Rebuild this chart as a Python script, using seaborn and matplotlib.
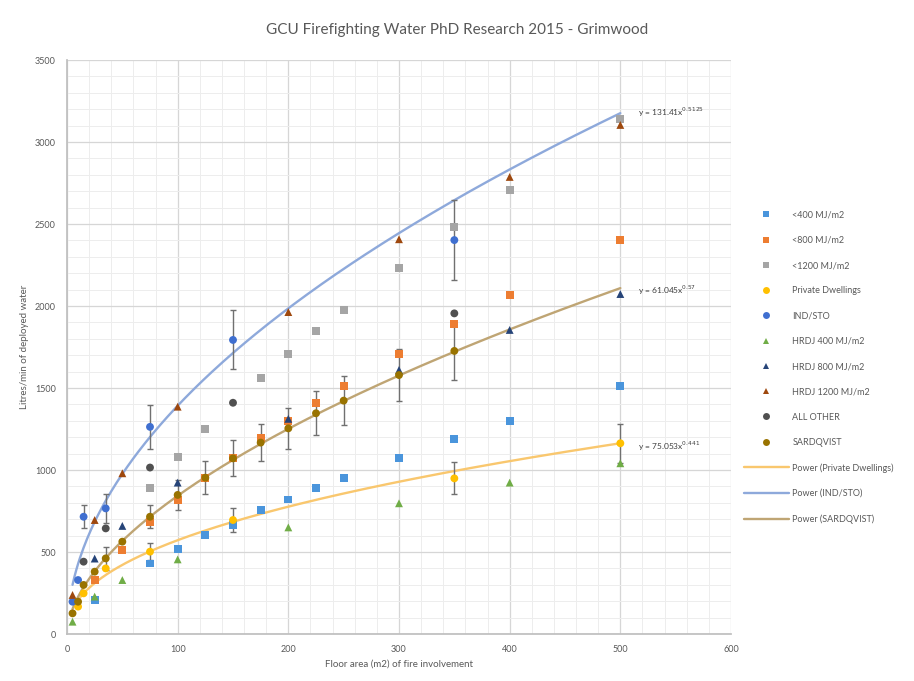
import numpy as np
import pandas as pd
import matplotlib
matplotlib.use("Agg")
import matplotlib.pyplot as plt
import seaborn as sns
from matplotlib.lines import Line2D
from matplotlib.ticker import MultipleLocator

# ---------------- data ----------------
lt400_x = [25, 75, 100, 125, 150, 175, 200, 225, 250, 300, 350, 400, 500]
lt400_y = [207, 430, 518, 602, 665, 754, 820, 890, 949, 1072, 1188, 1299, 1512]

lt800_x = [25, 50, 75, 100, 125, 150, 175, 200, 225, 250, 300, 350, 400, 500]
lt800_y = [329, 512, 685, 817, 950, 1071, 1193, 1300, 1406, 1512, 1705, 1890, 2065, 2400]

lt1200_x = [75, 100, 125, 175, 200, 225, 250, 300, 350, 400, 500]
lt1200_y = [888, 1077, 1248, 1559, 1707, 1845, 1976, 2230, 2484, 2707, 3140]

priv_x = [10, 15, 35, 75, 150, 350, 500]
priv_y = [167, 248, 400, 502, 695, 949, 1163]
priv_err = [0, 0, 0, 52, 75, 98, 120]

ind_x = [5, 10, 15, 35, 75, 150, 350]
ind_y = [197, 329, 715, 766, 1263, 1793, 2402]
ind_err = [0, 0, 70, 90, 135, 180, 245]

h400_x = [5, 25, 50, 100, 200, 300, 400, 500]
h400_y = [75, 228, 329, 455, 650, 797, 923, 1041]

h800_x = [25, 50, 100, 200, 300, 400, 500]
h800_y = [460, 659, 923, 1312, 1610, 1854, 2073]

h1200_x = [5, 25, 50, 100, 200, 300, 400, 500]
h1200_y = [238, 695, 980, 1386, 1963, 2407, 2787, 3104]

other_x = [15, 35, 75, 150, 350]
other_y = [441, 644, 1015, 1410, 1955]

sard_x = [5, 10, 15, 25, 35, 50, 75, 100, 125, 150, 175, 200, 225, 250, 300, 350]
sard_y = [126, 197, 299, 380, 461, 563, 715, 848, 953, 1071, 1167, 1254, 1346, 1423, 1579, 1726]
sard_err = [0, 0, 0, 0, 70, 0, 70, 90, 100, 110, 115, 127, 135, 148, 160, 177]

series_names = ["<400 MJ/m2", "<800 MJ/m2", "<1200 MJ/m2", "Private Dwellings", "IND/STO",
                "HRDJ 400 MJ/m2", "HRDJ 800 MJ/m2", "HRDJ 1200 MJ/m2", "ALL OTHER", "SARDQVIST"]

# power trendlines (coefficient, exponent) as shown on chart
priv_fit = (75.053, 0.441)
ind_fit = (131.41, 0.5125)
sard_fit = (61.045, 0.570)

# ---------------- styling ----------------
colors = {
    "<400 MJ/m2": "#4A95DC",
    "<800 MJ/m2": "#ED7D31",
    "<1200 MJ/m2": "#A5A5A5",
    "Private Dwellings": "#FFC000",
    "IND/STO": "#3F6FD0",
    "HRDJ 400 MJ/m2": "#70AD47",
    "HRDJ 800 MJ/m2": "#264478",
    "HRDJ 1200 MJ/m2": "#9E480E",
    "ALL OTHER": "#505050",
    "SARDQVIST": "#997300",
}
markers = {
    "<400 MJ/m2": "s",
    "<800 MJ/m2": "s",
    "<1200 MJ/m2": "s",
    "Private Dwellings": "o",
    "IND/STO": "o",
    "HRDJ 400 MJ/m2": "^",
    "HRDJ 800 MJ/m2": "^",
    "HRDJ 1200 MJ/m2": "^",
    "ALL OTHER": "o",
    "SARDQVIST": "o",
}

xs = [lt400_x, lt800_x, lt1200_x, priv_x, ind_x, h400_x, h800_x, h1200_x, other_x, sard_x]
ys = [lt400_y, lt800_y, lt1200_y, priv_y, ind_y, h400_y, h800_y, h1200_y, other_y, sard_y]
df = pd.concat([pd.DataFrame({"x": x, "y": y, "series": n}) for n, x, y in zip(series_names, xs, ys)],
               ignore_index=True)

sns.set_theme(style="white")
plt.rcParams["font.family"] = ["Lato", "DejaVu Sans"]

fig = plt.figure(figsize=(9.14, 6.81), dpi=100)
ax = fig.add_axes([67 / 914, 1 - 634 / 681, (731 - 67) / 914, (634 - 60) / 681])

# trendlines
trend_specs = [("Power (Private Dwellings)", priv_fit, priv_x, "#F9C76E"),
               ("Power (IND/STO)", ind_fit, ind_x, "#8EA9DB"),
               ("Power (SARDQVIST)", sard_fit, sard_x, "#BFA574")]
tdfs = []
for name, (a, b), sx, col in trend_specs:
    xx = np.linspace(min(sx), 500, 300)
    tdfs.append(pd.DataFrame({"x": xx, "y": a * xx ** b, "trend": name}))
tdf = pd.concat(tdfs, ignore_index=True)
sns.lineplot(data=tdf, x="x", y="y", hue="trend",
             palette={n: c for n, _, _, c in trend_specs}, linewidth=1.7,
             legend=False, ax=ax, zorder=2, sort=False, estimator=None)

# error bars
for ex, ey, ee in [(ind_x, ind_y, ind_err), (sard_x, sard_y, sard_err), (priv_x, priv_y, priv_err)]:
    ex = np.array(ex); ey = np.array(ey); ee = np.array(ee)
    m = ee > 0
    ax.errorbar(ex[m], ey[m], yerr=ee[m], fmt="none", ecolor="#707070",
                elinewidth=1.0, capsize=2.5, capthick=1.0, zorder=2.5)

sns.scatterplot(data=df, x="x", y="y", hue="series", style="series",
                hue_order=series_names, style_order=series_names,
                palette=colors, markers=markers, s=32, linewidth=0.3,
                edgecolor="none", legend=False, ax=ax, zorder=3)

ax.set_xlim(0, 600)
ax.set_ylim(0, 3500)
ax.xaxis.set_major_locator(MultipleLocator(100))
ax.xaxis.set_minor_locator(MultipleLocator(20))
ax.yaxis.set_major_locator(MultipleLocator(500))
ax.yaxis.set_minor_locator(MultipleLocator(100))
ax.grid(which="major", color="#D6D6D6", linewidth=0.9)
ax.grid(which="minor", color="#EDEDED", linewidth=0.7)
ax.set_axisbelow(True)
for s in ax.spines.values():
    s.set_visible(False)
ax.spines["left"].set_visible(True)
ax.spines["left"].set_color("#BFBFBF")
ax.spines["bottom"].set_visible(True)
ax.spines["bottom"].set_color("#BFBFBF")
ax.tick_params(axis="both", which="major", labelsize=6.5, colors="#595959", length=0, pad=8)
ax.tick_params(axis="both", which="minor", length=0)

ax.set_xlabel("Floor area (m2) of fire involvement", fontsize=7, color="#595959", labelpad=4)
ax.set_ylabel("Litres/min of deployed water", fontsize=7, color="#595959", labelpad=4)

fig.text(457 / 914, 1 - 30 / 681, "GCU Firefighting Water PhD Research 2015 - Grimwood",
         ha="center", va="center", fontsize=11, color="#595959")

# equations
eq_style = dict(fontsize=6, color="#404040", ha="left", va="center")
ax.text(516, 3183, r"y = 131.41x$^{0.5125}$", **eq_style)
ax.text(516, 2097, r"y = 61.045x$^{0.57}$", **eq_style)
ax.text(516, 1146, r"y = 75.053x$^{0.441}$", **eq_style)

# legend
handles = []
for n in series_names:
    handles.append(Line2D([], [], linestyle="none", marker=markers[n], color=colors[n],
                          markersize=5, markeredgewidth=0))
labels = list(series_names)
for name, _, _, col in trend_specs:
    handles.append(Line2D([], [], color=col, linewidth=1.7))
    labels.append(name)
leg = fig.legend(handles, labels, loc="upper left", bbox_to_anchor=(740 / 914, 1 - 207 / 681),
                 frameon=False, fontsize=6.5, labelspacing=1.8, handlelength=5,
                 handletextpad=0.4, labelcolor="#595959", borderaxespad=0)

fig.savefig("out.png", dpi=100, facecolor="white")
